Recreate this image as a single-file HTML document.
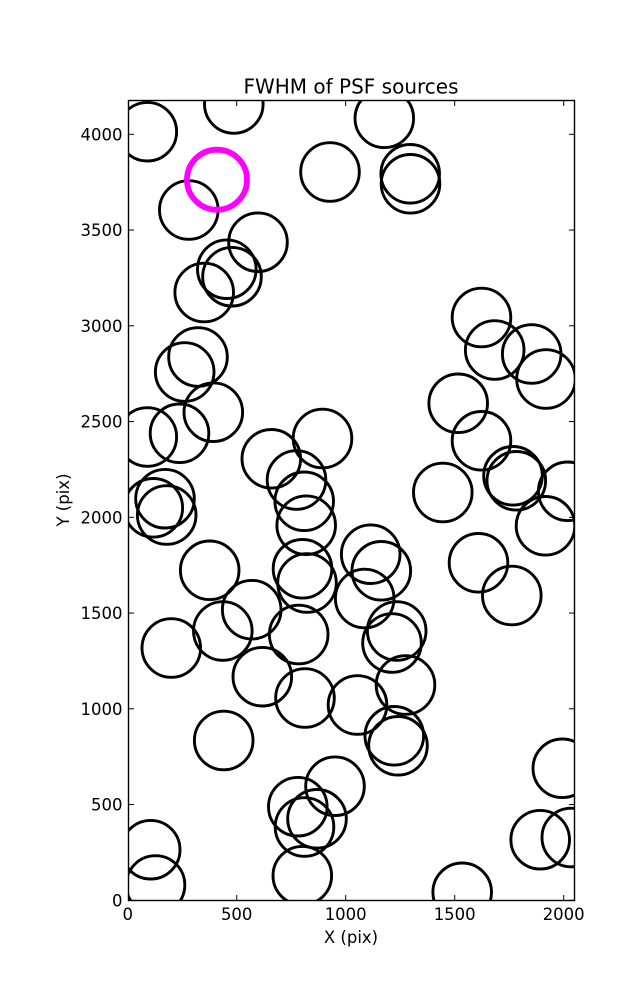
<!DOCTYPE html>
<html>
<head>
<meta charset="utf-8">
<style>
html,body{margin:0;padding:0;background:#fff;}
svg{display:block;}
text{font-family:"DejaVu Sans","Liberation Sans",sans-serif;fill:#000;}
</style>
</head>
<body>
<svg width="637" height="1000" viewBox="0 0 637 1000" xmlns="http://www.w3.org/2000/svg">
<rect x="0" y="0" width="637" height="1000" fill="#fff"/>
<defs>
<clipPath id="ax"><rect x="128.5" y="100.5" width="446" height="800"/></clipPath>
</defs>
<g clip-path="url(#ax)" fill="none" stroke="#000" stroke-width="2.9">
<circle cx="147.3" cy="131.7" r="29.3"/>
<circle cx="233.8" cy="104" r="29.3"/>
<circle cx="384.3" cy="118.3" r="29.3"/>
<circle cx="330" cy="172" r="29.3"/>
<circle cx="410.2" cy="173.8" r="29.3"/>
<circle cx="410.5" cy="183.8" r="29.3"/>
<circle cx="188.8" cy="210" r="29.3"/>
<circle cx="258" cy="242.2" r="29.3"/>
<circle cx="226.8" cy="269.2" r="29.3"/>
<circle cx="232" cy="276.7" r="29.3"/>
<circle cx="204.2" cy="292.5" r="29.3"/>
<circle cx="481.5" cy="317.5" r="29.3"/>
<circle cx="494.7" cy="350" r="29.3"/>
<circle cx="531.7" cy="354" r="29.3"/>
<circle cx="546" cy="379" r="29.3"/>
<circle cx="198" cy="357" r="29.3"/>
<circle cx="184.7" cy="372" r="29.3"/>
<circle cx="213.3" cy="412.2" r="29.3"/>
<circle cx="147.3" cy="437" r="29.3"/>
<circle cx="179.5" cy="433.3" r="29.3"/>
<circle cx="271.3" cy="458.8" r="29.3"/>
<circle cx="322.5" cy="438.5" r="29.3"/>
<circle cx="296.5" cy="480" r="29.3"/>
<circle cx="304.2" cy="501.3" r="29.3"/>
<circle cx="306.2" cy="525.2" r="29.3"/>
<circle cx="165" cy="498.7" r="29.3"/>
<circle cx="153.3" cy="507.8" r="29.3"/>
<circle cx="166.7" cy="515" r="29.3"/>
<circle cx="209.7" cy="570.3" r="29.3"/>
<circle cx="302.5" cy="568.8" r="29.3"/>
<circle cx="307" cy="583" r="29.3"/>
<circle cx="251.7" cy="609.7" r="29.3"/>
<circle cx="222.8" cy="631" r="29.3"/>
<circle cx="171.3" cy="648" r="29.3"/>
<circle cx="298.7" cy="634.5" r="29.3"/>
<circle cx="458.2" cy="403.3" r="29.3"/>
<circle cx="481.5" cy="440.8" r="29.3"/>
<circle cx="513" cy="475.8" r="29.3"/>
<circle cx="516.3" cy="480.8" r="29.3"/>
<circle cx="442.8" cy="492.5" r="29.3"/>
<circle cx="567.7" cy="491.3" r="29.3"/>
<circle cx="545.5" cy="525.8" r="29.3"/>
<circle cx="478.5" cy="562.8" r="29.3"/>
<circle cx="511.8" cy="595.5" r="29.3"/>
<circle cx="370.7" cy="554.2" r="29.3"/>
<circle cx="381.3" cy="570.8" r="29.3"/>
<circle cx="364.7" cy="598.5" r="29.3"/>
<circle cx="396.7" cy="631" r="29.3"/>
<circle cx="392" cy="643" r="29.3"/>
<circle cx="262.3" cy="676.7" r="29.3"/>
<circle cx="305" cy="698" r="29.3"/>
<circle cx="357.5" cy="705" r="29.3"/>
<circle cx="223.7" cy="740.5" r="29.3"/>
<circle cx="335" cy="786.2" r="29.3"/>
<circle cx="297.8" cy="806.7" r="29.3"/>
<circle cx="317" cy="818.8" r="29.3"/>
<circle cx="304.5" cy="827" r="29.3"/>
<circle cx="302.3" cy="875.7" r="29.3"/>
<circle cx="150.7" cy="849.7" r="29.3"/>
<circle cx="155.5" cy="885" r="29.3"/>
<circle cx="405.5" cy="685" r="29.3"/>
<circle cx="394.3" cy="735.8" r="29.3"/>
<circle cx="398" cy="745.8" r="29.3"/>
<circle cx="562.3" cy="768.3" r="29.3"/>
<circle cx="540.2" cy="839.7" r="29.3"/>
<circle cx="571.3" cy="837.5" r="29.3"/>
<circle cx="462.2" cy="892.3" r="29.3"/>
<circle cx="217" cy="179.7" r="30" stroke="#ff00ff" stroke-width="5.8"/>
</g>
<rect x="128.5" y="100.5" width="446" height="800" fill="none" stroke="#000" stroke-width="1.4"/>
<g stroke="#000" stroke-width="1">
<line x1="128.5" y1="900.3" x2="134" y2="900.3"/><line x1="574.5" y1="900.3" x2="569" y2="900.3"/>
<line x1="128.5" y1="804.55" x2="134" y2="804.55"/><line x1="574.5" y1="804.55" x2="569" y2="804.55"/>
<line x1="128.5" y1="708.8" x2="134" y2="708.8"/><line x1="574.5" y1="708.8" x2="569" y2="708.8"/>
<line x1="128.5" y1="613.05" x2="134" y2="613.05"/><line x1="574.5" y1="613.05" x2="569" y2="613.05"/>
<line x1="128.5" y1="517.3" x2="134" y2="517.3"/><line x1="574.5" y1="517.3" x2="569" y2="517.3"/>
<line x1="128.5" y1="421.55" x2="134" y2="421.55"/><line x1="574.5" y1="421.55" x2="569" y2="421.55"/>
<line x1="128.5" y1="325.8" x2="134" y2="325.8"/><line x1="574.5" y1="325.8" x2="569" y2="325.8"/>
<line x1="128.5" y1="230.05" x2="134" y2="230.05"/><line x1="574.5" y1="230.05" x2="569" y2="230.05"/>
<line x1="128.5" y1="134.3" x2="134" y2="134.3"/><line x1="574.5" y1="134.3" x2="569" y2="134.3"/>
<line x1="236.7" y1="900.5" x2="236.7" y2="895"/><line x1="236.7" y1="100.5" x2="236.7" y2="106"/>
<line x1="345.7" y1="900.5" x2="345.7" y2="895"/><line x1="345.7" y1="100.5" x2="345.7" y2="106"/>
<line x1="454.7" y1="900.5" x2="454.7" y2="895"/><line x1="454.7" y1="100.5" x2="454.7" y2="106"/>
<line x1="563.7" y1="900.5" x2="563.7" y2="895"/><line x1="563.7" y1="100.5" x2="563.7" y2="106"/>
</g>
<g font-size="16.5" text-anchor="end">
<text x="122.5" y="906.3">0</text>
<text x="122.5" y="810.5">500</text>
<text x="122.5" y="714.8">1000</text>
<text x="122.5" y="619">1500</text>
<text x="122.5" y="523.3">2000</text>
<text x="122.5" y="427.5">2500</text>
<text x="122.5" y="331.8">3000</text>
<text x="122.5" y="236">3500</text>
<text x="122.5" y="140.3">4000</text>
</g>
<g font-size="16.5" text-anchor="middle">
<text x="127.7" y="920">0</text>
<text x="236.7" y="920">500</text>
<text x="345.7" y="920">1000</text>
<text x="454.7" y="920">1500</text>
<text x="563.7" y="920">2000</text>
</g>
<text x="351" y="943" font-size="16.5" text-anchor="middle">X (pix)</text>
<text transform="translate(69,500) rotate(-90)" font-size="16.5" text-anchor="middle">Y (pix)</text>
<text x="351" y="93.3" font-size="20" text-anchor="middle">FWHM of PSF sources</text>
</svg>
</body>
</html>
